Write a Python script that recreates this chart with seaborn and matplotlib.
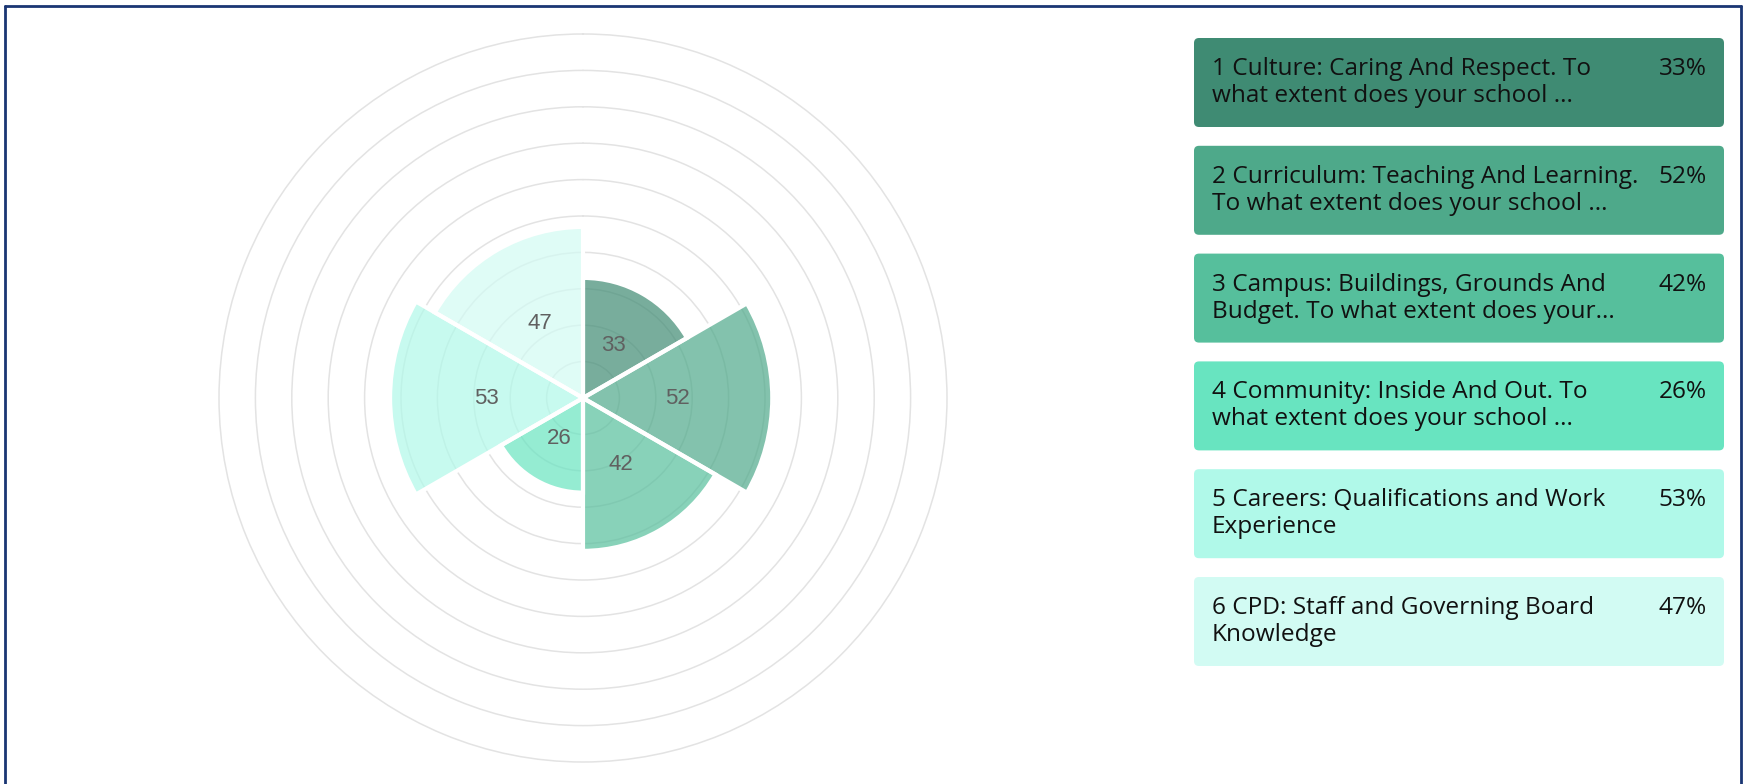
import numpy as np
import matplotlib.pyplot as plt
import seaborn as sns
from matplotlib.patches import FancyBboxPatch
from matplotlib.lines import Line2D

# data
labels_line1 = [
    "1 Culture: Caring And Respect. To",
    "2 Curriculum: Teaching And Learning.",
    "3 Campus: Buildings, Grounds And",
    "4 Community: Inside And Out. To",
    "5 Careers: Qualifications and Work",
    "6 CPD: Staff and Governing Board",
]
labels_line2 = [
    "what extent does your school ...",
    "To what extent does your school ...",
    "Budget. To what extent does your...",
    "what extent does your school ...",
    "Experience",
    "Knowledge",
]
values = [33, 52, 42, 26, 53, 47]
colors = ["#3f8b73", "#4ea98a", "#56bf9c", "#68e4c0", "#b0f9e9", "#d2fbf3"]

sns.set_theme(style="white")
plt.rcParams["font.family"] = ["Open Sans", "DejaVu Sans"]
palette = sns.color_palette(colors)

W, H = 1747, 784
fig = plt.figure(figsize=(W / 100, H / 100), dpi=100)

# -------------------------------
# polar area chart
# -------------------------------
cx, cy, R = 583, 398, 364
ax = fig.add_axes([(cx - R) / W, (H - cy - R) / H, 2 * R / W, 2 * R / H], projection="polar")
ax.set_theta_zero_location("N")
ax.set_theta_direction(-1)

n = len(values)
width = 2 * np.pi / n
theta = np.arange(n) * width + width / 2

ax.set_axisbelow(True)
ax.bar(theta, values, width=width, color=palette, alpha=0.7,
       linewidth=0, zorder=2)
# white separators drawn opaque on top of the translucent wedges
ax.bar(theta, values, width=width, facecolor="none", edgecolor="white",
       linewidth=3, zorder=2.5)

for t, v in zip(theta, values):
    ax.text(t, v / 2, str(v), ha="center", va="center", fontsize=16,
            color="#606060", family="Liberation Sans", zorder=3)

ax.set_ylim(0, 100)
ax.set_yticks(np.arange(10, 100, 10))
ax.set_yticklabels([])
ax.set_xticks([])
ax.yaxis.grid(True, color="#e3e3e3", linewidth=1.1)
ax.spines["polar"].set_color("#e3e3e3")
ax.spines["polar"].set_linewidth(1.1)

# -------------------------------
# legend boxes
# -------------------------------
ov = fig.add_axes([0, 0, 1, 1], facecolor="none")
ov.set_xlim(0, W)
ov.set_ylim(H, 0)
ov.axis("off")

box_x0, box_x1 = 1194, 1724
box_top, box_h, box_step = 38, 89, 107.8
for i, (l1, l2, v) in enumerate(zip(labels_line1, labels_line2, values)):
    top = box_top + i * box_step
    ov.add_patch(FancyBboxPatch((box_x0, top), box_x1 - box_x0, box_h,
                                boxstyle="round,pad=0,rounding_size=5",
                                facecolor=palette[i], edgecolor="none"))
    mid = top + box_h / 2
    ov.text(1212, mid - 13.5, l1, ha="left", va="center", fontsize=17.6, color="#111111")
    ov.text(1212, mid + 13.5, l2, ha="left", va="center", fontsize=17.6, color="#111111")
    ov.text(1707, mid - 13.5, f"{v}%", ha="right", va="center", fontsize=17.6, color="#111111")

# frame
frame = "#1a3673"
ov.add_line(Line2D([5.5, 5.5], [H, 5.5], color=frame, linewidth=2))
ov.add_line(Line2D([5.5, 1741], [5.5, 5.5], color=frame, linewidth=2))
ov.add_line(Line2D([1741, 1741], [5.5, H], color=frame, linewidth=2))

fig.savefig("out.png", dpi=100)
